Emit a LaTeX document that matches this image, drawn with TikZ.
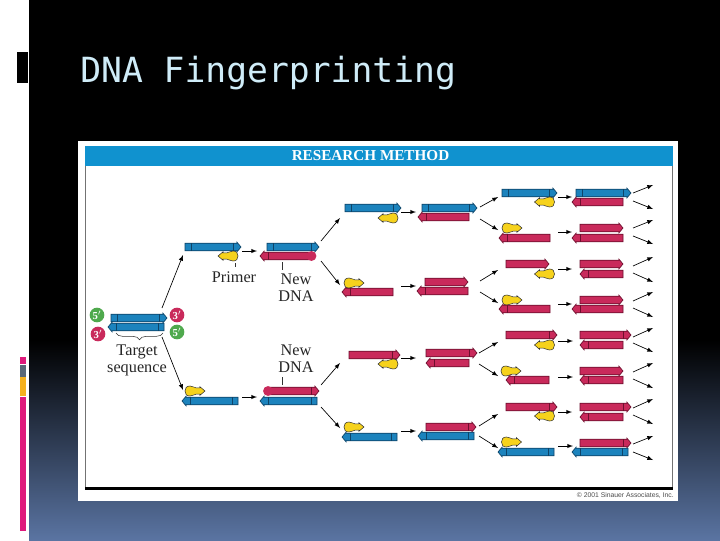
\documentclass[tikz,border=0pt]{standalone}
\usepackage{fontspec}
\setmainfont{Liberation Serif}
\newfontfamily\titlefont{DejaVu Sans Mono}
\newfontfamily\notefont{Liberation Sans}
\usetikzlibrary{shapes.arrows,decorations.pathreplacing}
\definecolor{slideblue}{HTML}{5A74A2}
\definecolor{slidepink}{HTML}{DF1A7C}
\definecolor{slidegray}{HTML}{5A6878}
\definecolor{slideorange}{HTML}{F5B11E}
\definecolor{titleblue}{HTML}{CFECF8}
\definecolor{headblue}{HTML}{1092CF}
\definecolor{dnablue}{HTML}{1C83BD}
\definecolor{dnablued}{HTML}{0E4468}
\definecolor{dnared}{HTML}{C92A5B}
\definecolor{dnaredd}{HTML}{6E0F2E}
\definecolor{primeryellow}{HTML}{F6D21C}
\definecolor{badgegreen}{HTML}{4FA94D}
\begin{document}
\begin{tikzpicture}
    [
        x=0.75pt,y=-0.75pt,
        >=latex,
        strand/.style={single arrow, draw, line width=0.5pt, anchor=tail, inner xsep=0pt, inner ysep=2.6pt, outer sep=0pt,
            single arrow head extend=0.8pt, single arrow tip angle=100},
        bluer/.style={strand, fill=dnablue, draw=dnablued, minimum height=#1*0.75pt,
            path picture={\draw[dnablued, line width=0.5pt]
                ([xshift=4.5pt]path picture bounding box.south west) -- ([xshift=4.5pt]path picture bounding box.north west)
                ([xshift=-6pt]path picture bounding box.south east) -- ([xshift=-6pt]path picture bounding box.north east);}},
        bluel/.style={strand, shape border rotate=180, fill=dnablue, draw=dnablued, minimum height=#1*0.75pt,
            path picture={\draw[dnablued, line width=0.5pt]
                ([xshift=6pt]path picture bounding box.south west) -- ([xshift=6pt]path picture bounding box.north west)
                ([xshift=-4.5pt]path picture bounding box.south east) -- ([xshift=-4.5pt]path picture bounding box.north east);}},
        redr/.style={strand, fill=dnared, draw=dnaredd, minimum height=#1*0.75pt},
        redb/.style={strand, fill=dnared, draw=dnaredd, minimum height=#1*0.75pt,
            path picture={\draw[dnaredd, line width=0.5pt]
                ([xshift=-6pt]path picture bounding box.south east) -- ([xshift=-6pt]path picture bounding box.north east);}},
        redl/.style={strand, shape border rotate=180, fill=dnared, draw=dnaredd, minimum height=#1*0.75pt,
            path picture={\draw[dnaredd, line width=0.5pt]
                ([xshift=6pt]path picture bounding box.south west) -- ([xshift=6pt]path picture bounding box.north west);}},
        bulb/.style={circle, fill=dnared, inner sep=0pt, minimum size=7.4pt},
        badge/.style={circle, inner sep=0pt, minimum size=11pt, text=white, font=\bfseries\fontsize{8}{8}\selectfont},
        green/.style={badge, fill=badgegreen},
        red/.style={badge, fill=dnared},
        label/.style={align=center, text=black!85, font=\fontsize{12.2}{12.6}\selectfont},
        flow/.style={->, line width=0.5pt, black},
        lead/.style={line width=0.4pt, black!80},
        primer/.pic={
            \coordinate (-c) at (0,0);
            \draw[fill=primeryellow, draw=black!80, line width=0.4pt]
                (-5,-5) .. controls (-8.5,-5) and (-10,-3) .. (-10,0)
                .. controls (-10,3) and (-8.5,5) .. (-5,5)
                .. controls (-2,5) and (-1,3.2) .. (1,3.2)
                -- (5,3.2) -- (5,4.2) -- (10,0) -- (5,-4.2) -- (5,-3.2) -- (1,-3.2)
                .. controls (-1,-3.2) and (-2,-5) .. (-5,-5) -- cycle;
        },
    ]
    \useasboundingbox (0,0) rectangle (720,540);

    % slide
    \fill[white] (0,0) rectangle (720,540);
    \fill[black] (29,0) rectangle (720,341);
    \shade[top color=black, bottom color=slideblue] (29,340) rectangle (720,540);
    \fill[black] (17,52) rectangle (28,83);
    \fill[slidepink] (20,357) rectangle (26,364);
    \fill[slidegray] (20,365) rectangle (26,377);
    \fill[slideorange] (20,377) rectangle (26,396);
    \fill[slidepink] (20,397) rectangle (26,531);
    \node (title) at (80,82) [anchor=base west, inner sep=0pt, text=titleblue, font=\titlefont\fontsize{26}{26}\selectfont] {DNA Fingerprinting};

    % panel
    \fill[white] (78,141) rectangle (678,501);
    \draw[black!55, line width=0.7pt] (85,146) -- (85,488) (672.5,146) -- (672.5,488);
    \fill[black] (85,487) rectangle (673,490);
    \fill[headblue] (85,146) rectangle (673,165.5);
    \node (head) at (370.5,156) [text=white, font=\bfseries\fontsize{11.4}{12}\selectfont] {RESEARCH METHOD};
    \node (note) at (674,495) [anchor=east, inner sep=0pt, text=black!70, font=\notefont\fontsize{5.1}{6}\selectfont] {\copyright{} 2001 Sinauer Associates, Inc.};

    % target
    \node (t1) at (111,318) [bluer=56] {};
    \node (t2) at (164,327) [bluel=56] {};
    \node (c1) at (97,315) [green] {5$'$};
    \node (c2) at (177,315) [red] {3$'$};
    \node (c3) at (98,334) [red] {3$'$};
    \node (c4) at (177,332) [green] {5$'$};
    \coordinate (br1) at (116,333);
    \coordinate (br2) at (163,333);
    \draw[lead, decorate, decoration={brace, mirror, amplitude=5pt}] (br1) -- (br2);
    \node (target) at (137,360) [label] {Target\\sequence};

    % round 1
    \node (a1) at (185,247) [bluer=56] {};
    \pic (p1) at (228,256) [xscale=-1] {primer};
    \node (a2) at (267,247) [bluer=52] {};
    \node (a3) at (312,256) [redl=52] {};
    \node (a3b) at (311.5,256) [bulb] {};
    \node (lp) at (234,277) [label] {Primer};
    \coordinate (m3) at (235,263);
    \draw[lead] (m3) -- (m3 |- lp.north);
    \node (ln1) at (296,288) [label] {New\\DNA};
    \coordinate (m1) at (282,262);
    \draw[lead] (m1) -- (m1 |- ln1.north);

    \node (a4) at (238,401) [bluel=56] {};
    \pic (p2) at (195,391) {primer};
    \node (a5) at (268,391) [redb=51] {};
    \node (a5b) at (268,391) [bulb] {};
    \node (a6) at (317,401) [bluel=57] {};
    \node (ln2) at (296,359) [label] {New\\DNA};
    \coordinate (m2) at (282,385);
    \draw[lead] (m2) -- (m2 |- ln2.south);

    % round 2
    \node (b1) at (345,208) [bluer=56] {};
    \pic (p3) at (388,218) [xscale=-1] {primer};
    \node (b2) at (422,208) [bluer=55] {};
    \node (b3) at (469,217) [redl=51] {};

    \node (b4) at (393,292) [redl=51] {};
    \pic (p4) at (354,283) {primer};
    \node (b5) at (425,282) [redr=43] {};
    \node (b6) at (468,291) [redl=51] {};

    \node (b7) at (349,355) [redb=51] {};
    \pic (p5) at (388,364) [xscale=-1] {primer};
    \node (b8) at (426,353) [redb=51] {};
    \node (b9) at (469,363) [redl=43] {};

    \node (b10) at (397,437) [bluel=55] {};
    \pic (p6) at (354,427) {primer};
    \node (b11) at (426,427) [redb=50] {};
    \node (b12) at (474,436) [bluel=56] {};

    % round 3
    \node (d1) at (502,193) [bluer=55] {};
    \pic (p7) at (544.5,202) [xscale=-1] {primer};
    \node (e1) at (576,193) [bluer=55] {};
    \node (e2) at (623,202) [redl=51] {};

    \pic (p8) at (512,228) {primer};
    \node (d2) at (550,238) [redl=51] {};
    \node (e3) at (580,228) [redr=43] {};
    \node (e4) at (623,238) [redl=51] {};

    \node (d3) at (506,264) [redr=43] {};
    \pic (p9) at (544.5,274) [xscale=-1] {primer};
    \node (e5) at (580,264) [redr=43] {};
    \node (e6) at (623,274) [redl=43] {};

    \pic (p10) at (512,300) {primer};
    \node (d4) at (550,309) [redl=51] {};
    \node (e7) at (580,300) [redr=43] {};
    \node (e8) at (623,309) [redl=51] {};

    \node (d5) at (506,335) [redb=51] {};
    \pic (p11) at (544.5,345) [xscale=-1] {primer};
    \node (e9) at (580,335) [redb=51] {};
    \node (e10) at (623,345) [redl=43] {};

    \pic (p12) at (511,371) {primer};
    \node (d6) at (549,380) [redl=43] {};
    \node (e11) at (580,371) [redr=43] {};
    \node (e12) at (623,380) [redl=43] {};

    \node (d7) at (506,407) [redb=51] {};
    \pic (p13) at (544.5,416) [xscale=-1] {primer};
    \node (e13) at (580,407) [redb=51] {};
    \node (e14) at (623,417) [redl=43] {};

    \pic (p14) at (511.5,442) {primer};
    \node (d8) at (554,452) [bluel=56] {};
    \node (e15) at (580,443) [redb=51] {};
    \node (e16) at (628,452) [bluel=56] {};

    % arrows
    \foreach \xa/\ya/\xb/\yb [count=\n] in {
        162/308/183/255, 162/337/183/390,
        242/251/257/251, 242/397/257/397,
        321/241/340/218, 321/261/340/285, 321/385/340/363, 321/407/340/428,
        401/212/416/212, 401/286/416/286, 401/358/416/358, 401/431/416/431,
        480/207/498/197, 480/219/498/230, 480/281/498/270, 480/292/498/303,
        479/353/498/342, 479/364/498/376, 479/426/498/414, 479/436/498/448,
        558/197/572/197, 558/232/572/232, 558/269/572/269, 558/304/572/304,
        558/341/573/341, 558/377/573/377, 558/412/572/412, 558/446/573/446,
        633/193/653/185, 633/201/653/209, 633/228/653/220, 633/236/653/244,
        633/266/653/257, 633/273/653/282, 633/301/653/292, 633/308/653/317,
        633/337/653/328, 633/343/653/352, 633/372/653/363, 633/379/653/388,
        633/408/653/399, 633/415/653/424, 633/444/653/436, 633/452/653/460}
    {
        \coordinate (f\n a) at (\xa,\ya);
        \coordinate (f\n b) at (\xb,\yb);
        \draw[flow] (f\n a) -- (f\n b);
    }

\end{tikzpicture}
\end{document}
